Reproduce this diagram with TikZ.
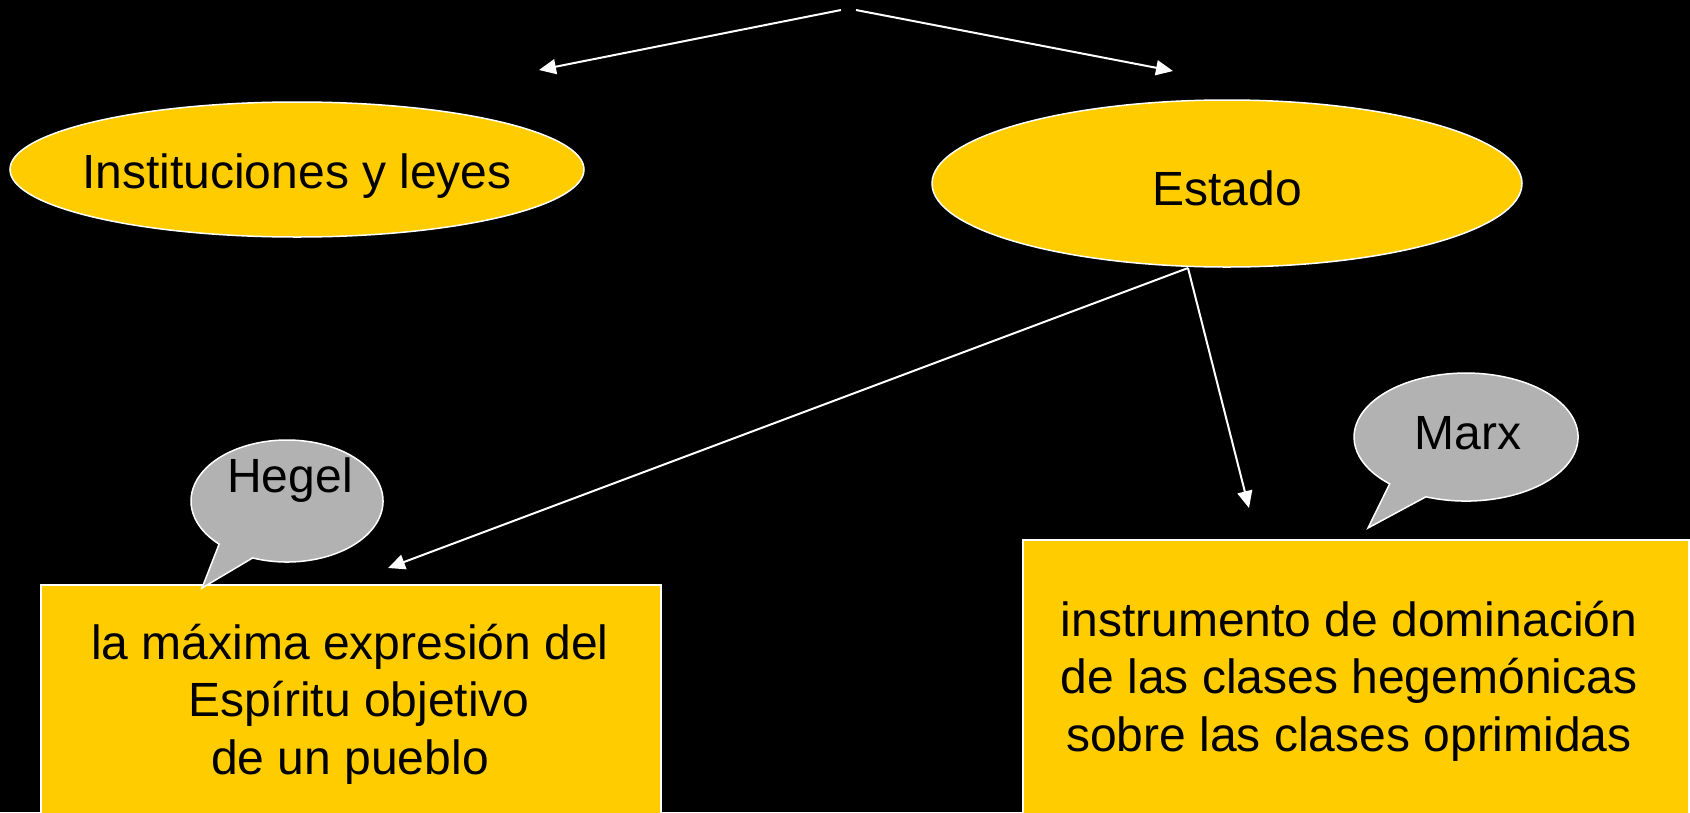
\documentclass[tikz,border=0pt]{standalone}
\usepackage{fontspec}
\setmainfont{Liberation Sans}
\usetikzlibrary{shapes.geometric,arrows.meta}
\definecolor{gold}{HTML}{FFCC00}
\definecolor{bubble}{HTML}{B2B2B2}
\begin{document}
\begin{tikzpicture}[x=1pt,y=-1pt,
  oval/.style={ellipse,draw=white,line width=1.5pt,fill=gold,inner sep=0pt},
  lbl/.style={font=\fontsize{48}{57.6}\selectfont,text=black,inner sep=0pt},
  panel/.style={rectangle,draw=white,line width=1.5pt,fill=gold,inner sep=0pt,anchor=north west},
  callout/.style={draw=white,line width=1.5pt,fill=bubble},
  link/.style={draw=white,line width=2pt,-{Triangle[width=15pt,length=17pt]}}]
\useasboundingbox (0,0) rectangle (1690,812);
\clip (0,0) rectangle (1690,812);
\fill[black] (0,0) rectangle (1690,812);

% ellipses
\node[oval,minimum width=574pt,minimum height=135pt] (inst) at (297,169.5) {};
\node[lbl,anchor=base] (instT) at (297,188) {Instituciones y leyes};
\node[oval,minimum width=590pt,minimum height=167pt] (estado) at (1227,183.5) {};
\node[lbl,anchor=base] (estadoT) at (1227,205) {Estado};

% top arrows
\coordinate (topL) at (841,10);
\coordinate (topR) at (856,10);
\coordinate (tipL) at (539,70);
\coordinate (tipR) at (1173,71);
\draw[link] (topL) -- (tipL);
\draw[link] (topR) -- (tipR);

% arrows from Estado
\coordinate (foot) at (1188,268);
\coordinate (tipH) at (388,568);
\coordinate (tipM) at (1249,508);
\draw[link] (foot) -- (tipH);
\draw[link] (foot) -- (tipM);

% boxes
\node[panel,minimum width=620pt,minimum height=240pt] (hegelBox) at (40,584) {};
\node[lbl,align=center] (hegelT) at (350,704) {la máxima expresión del\\\rule{18pt}{0pt}Espíritu objetivo\\de un pueblo};
\node[panel,minimum width=666pt,minimum height=280pt] (marxBox) at (1022,539) {};
\node[lbl,align=center] (marxT) at (1349,681) {instrumento de dominación\\de las clases hegemónicas\\sobre las clases oprimidas};

% callouts
\draw[callout] (202,588) -- (252.6,557.95) arc[start angle=111,end angle=-225,x radius=96,y radius=61] -- cycle;
\node[lbl,anchor=base] (hegelName) at (290,492) {Hegel};
\draw[callout] (1368,528) -- (1425.9,496.8) arc[start angle=111,end angle=-227,x radius=112,y radius=64] -- cycle;
\node[lbl,anchor=base] (marxName) at (1468,449) {Marx};
\end{tikzpicture}
\end{document}
